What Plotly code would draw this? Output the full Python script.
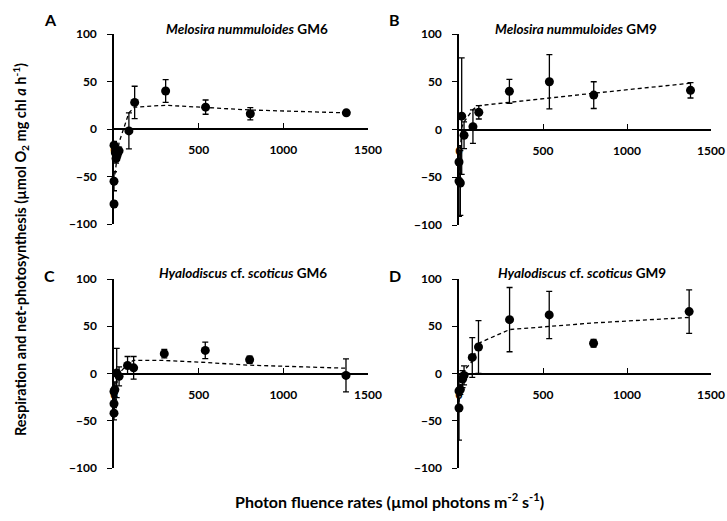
import plotly.graph_objects as go

# ---------------- data ----------------
# Panel A: Melosira nummuloides GM6
a_x = [0, 0, 0, 8, 12, 18, 30, 88, 122, 305, 541, 805, 1372]
a_y = [-79, -55, -17, -25, -31, -28, -23, -2, 28, 40, 23, 16, 17]
a_err = [3, 10, 4, 5, 5, 5, 4, 19, 17, 12, 7.5, 6.5, 2.5]
a_fit_x = [0, 8, 12, 18, 30, 88, 122, 305, 541, 805, 1372]
a_fit_y = [-55, -44, -38, -30, -14, 17, 23, 25, 22.5, 20, 17]

# Panel B: Melosira nummuloides GM9
b_x = [0, 0, 8, 16, 30, 83, 118, 300, 538, 802, 1378]
b_y = [-34, -54, -56, 14, -6, 3, 18, 40, 50, 36, 41]
b_err = [12, 37, 34, 61, 14, 17.5, 7, 12.5, 28.5, 14, 8]
b_fit_x = [0, 8, 16, 30, 83, 118, 300, 538, 802, 1378]
b_fit_y = [-50, -15, 2, 8, 21, 25, 28.5, 33.5, 38, 48.5]

# Panel C: Hyalodiscus cf. scoticus GM6
c_x = [0, 0, 0, 5, 16, 30, 80, 116, 297, 539, 801, 1370]
c_y = [-42, -32, -19, -17, 0.5, -3, 8.5, 6, 21, 24.4, 14.5, -2]
c_err = [7, 4, 8, 8, 26, 10, 9.5, 12, 4.5, 8.7, 3.8, 17.5]
c_fit_x = [0, 5, 16, 30, 80, 116, 297, 539, 801, 1370]
c_fit_y = [-40, -25, -5, 0, 10, 14, 13.8, 11.7, 8.8, 5.6]

# Panel D: Hyalodiscus cf. scoticus GM9
d_x = [0, 0, 8, 21, 30, 79, 116, 301, 537, 801, 1370]
d_y = [-36.5, -18.4, -17, -6, -2, 17, 28, 57, 62, 32, 65.5]
d_err = [34, 5, 5, 9, 10, 21, 28, 34, 25, 4, 23]
d_fit_x = [0, 8, 21, 30, 79, 116, 301, 537, 801, 1370]
d_fit_y = [-30, -12, 0, 3, 13, 32, 46.5, 50, 53.5, 59.3]

panel_letters = ["A", "B", "C", "D"]
panel_titles = [
    "<i>Melosira nummuloides</i> GM6",
    "<i>Melosira nummuloides</i> GM9",
    "<i>Hyalodiscus</i> cf. <i>scoticus</i> GM6",
    "<i>Hyalodiscus</i> cf. <i>scoticus</i> GM9",
]
x_ticks = [0, 500, 1000, 1500]
y_ticks = [-100, -50, 0, 50, 100]

# ---------------- layout geometry ----------------
W, H = 727, 521
FONT = "Lato, 'Open Sans', sans-serif"

def px_x(p):
    return p / W

def px_y(p):
    return 1 - p / H

panels = [
    dict(data=(a_x, a_y, a_err, a_fit_x, a_fit_y), xd=(114, 368), yd=(34, 224),
         letter=(50, 20), title=(247, 29)),
    dict(data=(b_x, b_y, b_err, b_fit_x, b_fit_y), xd=(459, 711), yd=(34, 225),
         letter=(395, 20), title=(576, 29)),
    dict(data=(c_x, c_y, c_err, c_fit_x, c_fit_y), xd=(114, 368), yd=(279, 468),
         letter=(49, 275), title=(243, 273)),
    dict(data=(d_x, d_y, d_err, d_fit_x, d_fit_y), xd=(459, 711), yd=(279, 468),
         letter=(395, 275), title=(582, 273)),
]

fig = go.Figure()
annotations = []

for i, p in enumerate(panels):
    n = "" if i == 0 else str(i + 1)
    xs, ys, errs, fx, fy = p["data"]
    xref = "x" + n
    yref = "y" + n

    fig.add_trace(go.Scatter(
        x=fx, y=fy, mode="lines", xaxis=xref, yaxis=yref,
        line=dict(color="black", width=1.3, dash="4px,3px"),
        hoverinfo="skip", showlegend=False, cliponaxis=False,
    ))
    fig.add_trace(go.Scatter(
        x=xs, y=ys, mode="markers", xaxis=xref, yaxis=yref,
        marker=dict(color="black", size=9),
        error_y=dict(type="data", array=errs, visible=True, color="black",
                     thickness=1.3, width=3),
        showlegend=False, cliponaxis=False,
    ))

    y0, y1 = px_y(p["yd"][1]), px_y(p["yd"][0])
    xdom = [px_x(p["xd"][0]), px_x(p["xd"][1])]
    ydom = [y0, y1]

    fig.layout["xaxis" + n] = dict(
        domain=xdom, range=[0, 1500], anchor="free", position=(y0 + y1) / 2,
        tickvals=x_ticks, ticks="inside", ticklen=5, tickwidth=1.3, tickcolor="black",
        showline=True, linecolor="black", linewidth=1.5, showgrid=False, zeroline=False,
        tickfont=dict(family=FONT, size=12, color="black", weight="bold"),
        ticklabelstandoff=10, automargin=False,
    )
    fig.layout["yaxis" + n] = dict(
        domain=ydom, range=[-100, 100], anchor=xref,
        tickvals=y_ticks, ticks="outside", ticklen=5, tickwidth=1.3, tickcolor="black",
        showline=True, linecolor="black", linewidth=1.5, showgrid=False, zeroline=False,
        tickfont=dict(family=FONT, size=12, color="black", weight="bold"),
        ticklabelstandoff=8, automargin=False,
    )

    annotations.append(dict(
        text="<b>" + panel_letters[i] + "</b>", x=px_x(p["letter"][0]), y=px_y(p["letter"][1]),
        xref="paper", yref="paper", showarrow=False, xanchor="center", yanchor="middle",
        font=dict(family=FONT, size=16, color="black"),
    ))
    annotations.append(dict(
        text="<b>" + panel_titles[i] + "</b>", x=px_x(p["title"][0]), y=px_y(p["title"][1]),
        xref="paper", yref="paper", showarrow=False, xanchor="center", yanchor="middle",
        font=dict(family=FONT, size=13.5, color="black"),
    ))

annotations.append(dict(
    text="<b>Respiration and net-photosynthesis (µmol O<sub>2</sub> mg chl <i>a</i> h<sup>-1</sup>)</b>",
    x=px_x(20), y=px_y(250), xref="paper", yref="paper", showarrow=False,
    textangle=-90, xanchor="center", yanchor="middle",
    font=dict(family=FONT, size=14.5, color="black"),
))
annotations.append(dict(
    text="<b>Photon fluence rates (µmol photons m<sup>-2</sup> s<sup>-1</sup>)</b>",
    x=px_x(389), y=px_y(500), xref="paper", yref="paper", showarrow=False,
    xanchor="center", yanchor="middle",
    font=dict(family=FONT, size=16, color="black"),
))

fig.update_layout(
    template="none",
    width=W, height=H, margin=dict(l=0, r=0, t=0, b=0, autoexpand=False),
    paper_bgcolor="white", plot_bgcolor="white",
    annotations=annotations, showlegend=False,
    font=dict(family=FONT, color="black"),
)

fig.write_html(
    "out.html",
    config={"displayModeBar": False},
    post_script="document.body.style.margin='0';document.body.style.overflow='hidden';",
)
